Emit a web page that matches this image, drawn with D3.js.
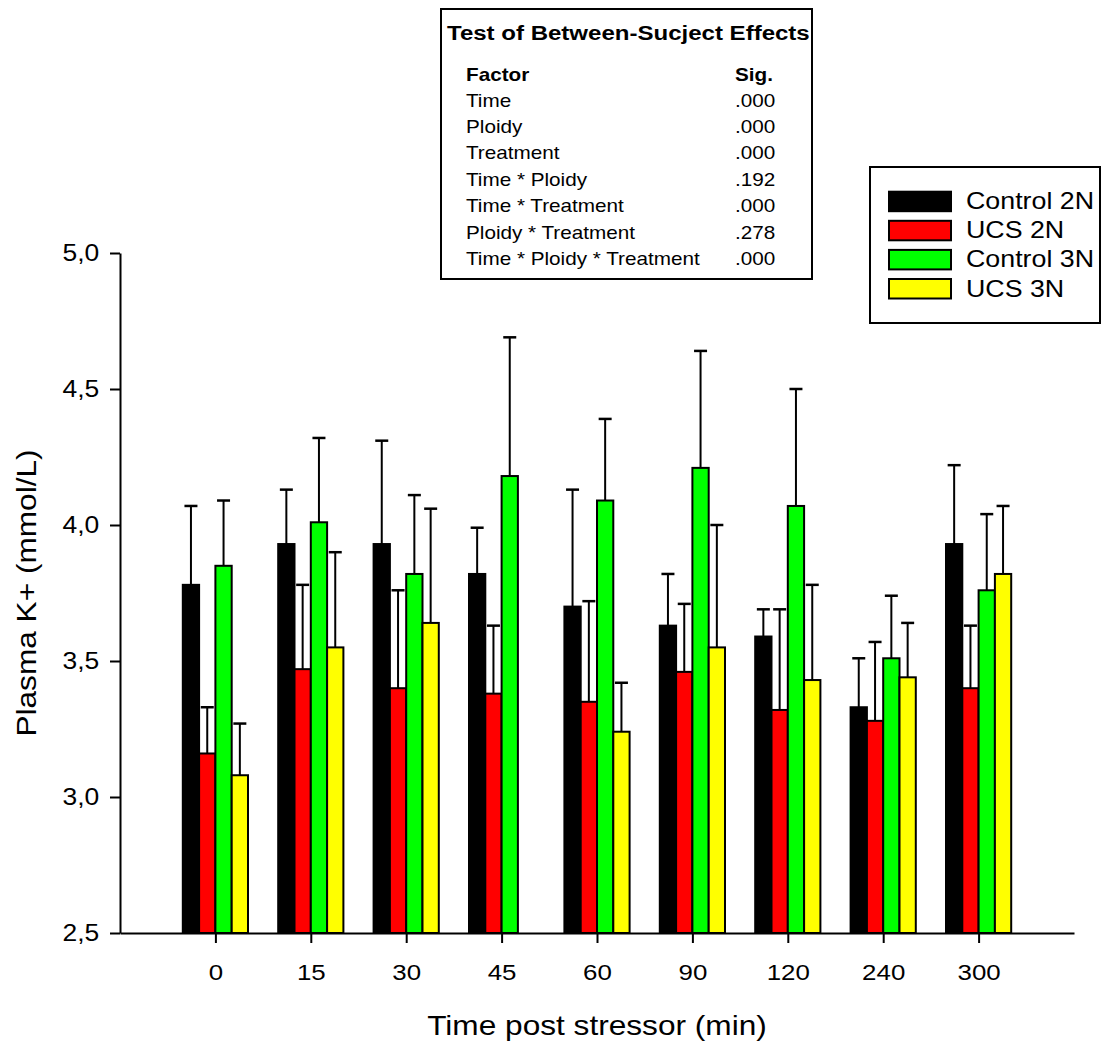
<!DOCTYPE html>
<html>
<head>
<meta charset="utf-8">
<script src="https://cdn.jsdelivr.net/npm/d3@7"></script>
<style>
  html, body { margin: 0; padding: 0; background: #fff; }
  svg { display: block; }
  text { font-family: "Liberation Sans", Arial, sans-serif; fill: #000; }
</style>
</head>
<body>
<svg id="chart" width="1102" height="1043"></svg>
<script>
// Sampling times (min after the stressor)
const times = ["0", "15", "30", "45", "60", "90", "120", "240", "300"];

// Group names and fills
const groups = ["Control 2N", "UCS 2N", "Control 3N", "UCS 3N"];
const groupColors = ["#000000", "#ff0000", "#00ff00", "#ffff00"];

// Mean plasma K+ (mmol/L) per time point
const control2N = [3.78, 3.93, 3.93, 3.82, 3.70, 3.63, 3.59, 3.33, 3.93];
const ucs2N     = [3.16, 3.47, 3.40, 3.38, 3.35, 3.46, 3.32, 3.28, 3.40];
const control3N = [3.85, 4.01, 3.82, 4.18, 4.09, 4.21, 4.07, 3.51, 3.76];
const ucs3N     = [3.08, 3.55, 3.64, null, 3.24, 3.55, 3.43, 3.44, 3.82];

// Standard errors (drawn upward only)
const control2NErr = [0.29, 0.20, 0.38, 0.17, 0.43, 0.19, 0.10, 0.18, 0.29];
const ucs2NErr     = [0.17, 0.31, 0.36, 0.25, 0.37, 0.25, 0.37, 0.29, 0.23];
const control3NErr = [0.24, 0.31, 0.29, 0.51, 0.30, 0.43, 0.43, 0.23, 0.28];
const ucs3NErr     = [0.19, 0.35, 0.42, null, 0.18, 0.45, 0.35, 0.20, 0.25];

// Y axis ticks
const yTicks = [2.5, 3.0, 3.5, 4.0, 4.5, 5.0];

// ANOVA summary table
const anovaFactors = ["Time", "Ploidy", "Treatment", "Time * Ploidy", "Time * Treatment",
                      "Ploidy * Treatment", "Time * Ploidy * Treatment"];
const anovaSig = [".000", ".000", ".000", ".192", ".000", ".278", ".000"];

const seriesMeans = [control2N, ucs2N, control3N, ucs3N];
const seriesErrs = [control2NErr, ucs2NErr, control3NErr, ucs3NErr];

const records = [];
times.forEach((t, ti) => {
  groups.forEach((g, gi) => {
    const v = seriesMeans[gi][ti];
    if (v != null) records.push({ time: t, group: g, gi, value: v, err: seriesErrs[gi][ti] });
  });
});

const SX = 1.15; // horizontal glyph stretch
const svg = d3.select("#chart");
svg.append("rect").attr("width", 1102).attr("height", 1043).attr("fill", "#fff");

const plotLeft = 120, plotTop = 253, plotW = 954, plotBottom = 933;

const x = d3.scalePoint().domain(times).range([0, plotW]).padding(1);
const inner = d3.scaleBand().domain(groups).range([-32.6, 32.6]).padding(0);
const y = d3.scaleLinear().domain([2.5, 5]).range([plotBottom, plotTop]);

const plot = svg.append("g").attr("transform", `translate(${plotLeft},0)`);

// Bars
plot.append("g").selectAll("rect").data(records).join("rect")
  .attr("x", d => x(d.time) + inner(d.group))
  .attr("y", d => y(d.value))
  .attr("width", inner.bandwidth())
  .attr("height", d => y(2.5) - y(d.value))
  .attr("fill", d => groupColors[d.gi])
  .attr("stroke", "#000")
  .attr("stroke-width", 2);

// Error bars
const eb = plot.append("g").attr("stroke", "#000");
eb.selectAll("line.v").data(records).join("line").attr("class", "v")
  .attr("x1", d => x(d.time) + inner(d.group) + inner.bandwidth() / 2)
  .attr("x2", d => x(d.time) + inner(d.group) + inner.bandwidth() / 2)
  .attr("y1", d => y(d.value))
  .attr("y2", d => y(d.value + d.err))
  .attr("stroke-width", 2);
eb.selectAll("line.cap").data(records).join("line").attr("class", "cap")
  .attr("x1", d => x(d.time) + inner(d.group) + inner.bandwidth() / 2 - 6.5)
  .attr("x2", d => x(d.time) + inner(d.group) + inner.bandwidth() / 2 + 6.5)
  .attr("y1", d => y(d.value + d.err))
  .attr("y2", d => y(d.value + d.err))
  .attr("stroke-width", 2.5);

// Axes
const yAxis = d3.axisLeft(y).tickValues(yTicks)
  .tickFormat(d => d3.format(".1f")(d).replace(".", ","))
  .tickSize(10).tickSizeOuter(0).tickPadding(8);
const yg = plot.append("g").call(yAxis);
yg.select(".domain").attr("stroke-width", 2);
yg.selectAll(".tick line").attr("stroke-width", 2);
yg.selectAll(".tick text")
  .style("font-size", "23px").style("font-family", "'Liberation Sans', Arial, sans-serif")
  .attr("transform", `scale(${SX},1)`);

const xAxis = d3.axisBottom(x).tickSize(10).tickSizeOuter(0).tickPadding(21);
const xg = plot.append("g").attr("transform", `translate(0,${plotBottom})`).call(xAxis);
xg.select(".domain").attr("stroke-width", 2);
xg.selectAll(".tick line").attr("stroke-width", 2);
xg.selectAll(".tick text")
  .style("font-size", "22.5px").style("font-family", "'Liberation Sans', Arial, sans-serif")
  .attr("transform", `scale(${SX},1)`);

// Axis titles
svg.append("text")
  .attr("transform", `translate(597,1035) scale(${SX},1)`)
  .attr("text-anchor", "middle")
  .style("font-size", "27.5px")
  .text("Time post stressor (min)");

svg.append("text")
  .attr("transform", `translate(36,593) rotate(-90) scale(${SX},1)`)
  .attr("text-anchor", "middle")
  .style("font-size", "27.5px")
  .text("Plasma K+ (mmol/L)");

// ANOVA summary box
const box = svg.append("g");
box.append("rect").attr("x", 441).attr("y", 9).attr("width", 371).attr("height", 270)
  .attr("fill", "#fff").attr("stroke", "#000").attr("stroke-width", 2);
box.append("text").attr("transform", `translate(447,40) scale(${SX},1)`)
  .style("font-size", "20.9px").style("font-weight", "bold")
  .text("Test of Between-Sucject Effects");
box.append("text").attr("transform", `translate(466,81) scale(${SX},1)`)
  .style("font-size", "18px").style("font-weight", "bold").text("Factor");
box.append("text").attr("transform", `translate(735,81) scale(${SX},1)`)
  .style("font-size", "18px").style("font-weight", "bold").text("Sig.");
const rowY = d3.scalePoint().domain(anovaFactors).range([106.7, 265]);
box.selectAll("text.f").data(anovaFactors).join("text").attr("class", "f")
  .attr("transform", d => `translate(466,${rowY(d)}) scale(${SX},1)`)
  .style("font-size", "18px").text(d => d);
box.selectAll("text.s").data(anovaFactors).join("text").attr("class", "s")
  .attr("transform", (d, i) => `translate(735,${rowY(d)}) scale(${SX},1)`)
  .style("font-size", "18px").text((d, i) => anovaSig[i]);

// Legend
const lg = svg.append("g");
lg.append("rect").attr("x", 870).attr("y", 167).attr("width", 230).attr("height", 156)
  .attr("fill", "#fff").attr("stroke", "#000").attr("stroke-width", 2);
const ly = d3.scalePoint().domain(groups).range([191.7, 279]);
lg.selectAll("rect.sw").data(groups).join("rect").attr("class", "sw")
  .attr("x", 889).attr("y", d => ly(d)).attr("width", 62).attr("height", 19.5)
  .attr("fill", (d, i) => groupColors[i]).attr("stroke", "#000").attr("stroke-width", 2);
lg.selectAll("text").data(groups).join("text")
  .attr("transform", d => `translate(966,${ly(d) + 17.5}) scale(${SX},1)`)
  .style("font-size", "23.3px").text(d => d);
</script>
</body>
</html>
